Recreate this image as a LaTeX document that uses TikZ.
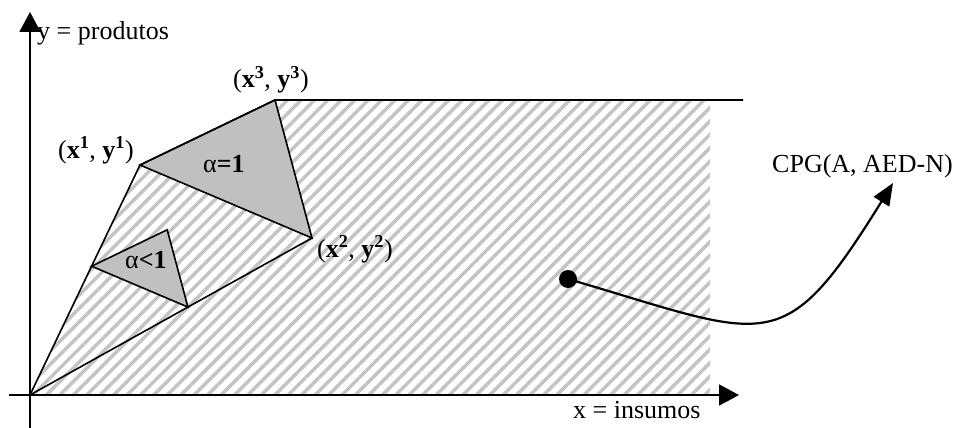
\documentclass[tikz,border=0pt]{standalone}
\usepackage{fontspec}
\setmainfont{Liberation Serif}
\usetikzlibrary{arrows.meta,patterns.meta,calc}
\definecolor{ghatch}{HTML}{C4C4C4}
\definecolor{gfill}{HTML}{C0C0C0}

\begin{document}
\begin{tikzpicture}[x=1pt,y=-1pt,
  font=\fontsize{26}{30}\selectfont,
  ax/.style={line width=1.8pt,-{Triangle[length=20pt,width=21pt]}},
  edge/.style={line width=1.6pt,line join=miter},
  lbl/.style={anchor=base west,inner sep=0pt},
  hatch/.style={pattern={Lines[angle=45,distance=9.5pt,line width=3.5pt]},
                pattern color=ghatch},
  link/.style={line width=2.2pt,-{Triangle[length=22pt,width=18pt]}}
]
\useasboundingbox (0,0) rectangle (958,428);

% points of the frontier
\coordinate (o) at (30,395);
\coordinate (p1) at (140,165);
\coordinate (p2) at (312,238);
\coordinate (p3) at (275,100);
\coordinate (e) at (743,100);
\coordinate (h1) at (710,100);
\coordinate (h2) at (710,395);
\coordinate (q1) at ($(o)!0.56!(p1)$);
\coordinate (q2) at ($(o)!0.56!(p2)$);
\coordinate (q3) at ($(o)!0.56!(p3)$);

% axes ends
\coordinate (xs) at (9,395);
\coordinate (xe) at (739,395);
\coordinate (ys) at (30,428);
\coordinate (ye) at (30,12);

\fill[hatch] (o) -- (p1) -- (p3) -- (h1) -- (h2) -- cycle;
\filldraw[edge,fill=gfill] (p1) -- (p3) -- (p2) -- cycle;
\filldraw[edge,fill=gfill] (q1) -- (q3) -- (q2) -- cycle;
\draw[edge] (o) -- (p1) -- (p3) -- (e);
\draw[edge] (o) -- (p2);

\draw[ax] (xs) -- (xe);
\draw[ax] (ys) -- (ye);

\node[lbl] (ylab) at (37,40) {y = produtos};
\node[lbl] (xlab) at (573,418) {x = insumos};
\node[lbl] (l1) at (58,158) {(\textbf{x\textsuperscript{1}}, \textbf{y\textsuperscript{1}})};
\node[lbl] (l3) at (233,88) {(\textbf{x\textsuperscript{3}}, \textbf{y\textsuperscript{3}})};
\node[lbl] (l2) at (317,257) {(\textbf{x\textsuperscript{2}}, \textbf{y\textsuperscript{2}})};
\node[lbl] (a1) at (203,172) {α\textbf{=1}};
\node[lbl] (a2) at (125,268) {α\textbf{<1}};
\node[lbl] (cpg) at (772,172) {CPG(A, AED-N)};

% point inside the set and its arrow
\node[circle,fill,inner sep=0pt,minimum size=18pt] (pt) at (568,279) {};
\coordinate (tip) at (893,183);
\draw[link] (pt.center) .. controls (770,338) and (782,362) .. (tip);
\end{tikzpicture}
\end{document}
